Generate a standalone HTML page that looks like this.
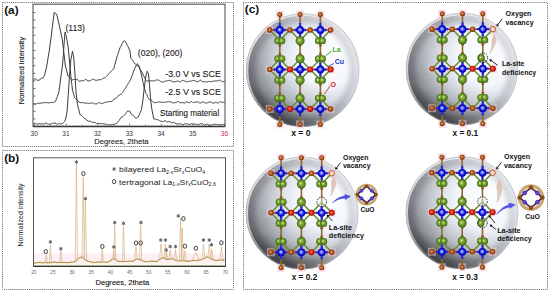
<!DOCTYPE html>
<html><head><meta charset="utf-8"><style>
html,body{margin:0;padding:0;background:#fff;width:550px;height:292px;overflow:hidden}
svg{display:block}

</style></head><body><svg width="550" height="292" viewBox="0 0 550 292">
<defs>
<radialGradient id="sph" cx="0.68" cy="0.42" r="0.75" fx="0.72" fy="0.38">
 <stop offset="0" stop-color="#ffffff"/>
 <stop offset="0.33" stop-color="#f3f6fb"/>
 <stop offset="0.5" stop-color="#dde2ea"/>
 <stop offset="0.62" stop-color="#c6cbd2"/>
 <stop offset="0.79" stop-color="#9ea2a8"/>
 <stop offset="0.91" stop-color="#777a80"/>
 <stop offset="1" stop-color="#5c5e62"/>
</radialGradient>
<radialGradient id="ring" cx="0.5" cy="0.5" r="0.5">
 <stop offset="0.76" stop-color="#000" stop-opacity="0"/>
 <stop offset="0.88" stop-color="#000" stop-opacity="0.12"/>
 <stop offset="0.95" stop-color="#000" stop-opacity="0.08"/>
 <stop offset="1" stop-color="#fff" stop-opacity="0.12"/>
</radialGradient>
<linearGradient id="shade" x1="0.72" y1="0" x2="0.3" y2="1">
 <stop offset="0.55" stop-color="#000" stop-opacity="0"/>
 <stop offset="0.76" stop-color="#000" stop-opacity="0.1"/>
 <stop offset="0.88" stop-color="#000" stop-opacity="0.32"/>
 <stop offset="0.95" stop-color="#000" stop-opacity="0.5"/>
 <stop offset="1" stop-color="#000" stop-opacity="0.6"/>
</linearGradient>
<linearGradient id="rim" x1="0" y1="0" x2="0.55" y2="1">
 <stop offset="0" stop-color="#f6f6f6" stop-opacity="0.95"/>
 <stop offset="0.5" stop-color="#e4e4e4" stop-opacity="0.75"/>
 <stop offset="0.85" stop-color="#d0d0d0" stop-opacity="0"/>
</linearGradient>
<radialGradient id="cu" cx="0.5" cy="0.5" r="0.5" fx="0.45" fy="0.45">
 <stop offset="0" stop-color="#ffffff"/>
 <stop offset="0.3" stop-color="#6a7aff"/>
 <stop offset="0.7" stop-color="#1010e0"/>
 <stop offset="1" stop-color="#000090"/>
</radialGradient>
<radialGradient id="la" cx="0.5" cy="0.5" r="0.5" fx="0.4" fy="0.4">
 <stop offset="0" stop-color="#e0f0a4"/>
 <stop offset="0.35" stop-color="#86b23c"/>
 <stop offset="0.8" stop-color="#55841e"/>
 <stop offset="1" stop-color="#385410"/>
</radialGradient>
<radialGradient id="ox" cx="0.5" cy="0.5" r="0.5" fx="0.4" fy="0.4">
 <stop offset="0" stop-color="#f0a060"/>
 <stop offset="0.6" stop-color="#b0561a"/>
 <stop offset="1" stop-color="#6a2a06"/>
</radialGradient>
<radialGradient id="oxr" cx="0.5" cy="0.5" r="0.5" fx="0.4" fy="0.4">
 <stop offset="0" stop-color="#ff8060"/>
 <stop offset="0.6" stop-color="#e02010"/>
 <stop offset="1" stop-color="#900800"/>
</radialGradient>
<radialGradient id="cuo" cx="0.5" cy="0.5" r="0.5">
 <stop offset="0" stop-color="#ffffff"/>
 <stop offset="0.55" stop-color="#fcf6ee"/>
 <stop offset="0.7" stop-color="#ecd6b8"/>
 <stop offset="0.84" stop-color="#c29c68"/>
 <stop offset="0.94" stop-color="#ccae80"/>
 <stop offset="1" stop-color="#ebe0cc"/>
</radialGradient>
<linearGradient id="tanarr" x1="0" y1="0" x2="0" y2="1">
 <stop offset="0" stop-color="#e6bcac"/>
 <stop offset="0.45" stop-color="#dac8bc"/>
 <stop offset="1" stop-color="#d8d2cc"/>
</linearGradient>
</defs>
<rect x="2.5" y="2.5" width="231.0" height="144.0" fill="none" stroke="#7a7a7a" stroke-width="1" stroke-dasharray="1.2,0.9"/><rect x="2.5" y="150.5" width="231.0" height="139.0" fill="none" stroke="#7a7a7a" stroke-width="1" stroke-dasharray="1.2,0.9"/><rect x="243.5" y="2.5" width="304.0" height="287.0" fill="none" stroke="#7a7a7a" stroke-width="1" stroke-dasharray="1.2,0.9"/><text x="4.2" y="13.5" font-family="Liberation Sans, sans-serif" font-weight="bold" font-size="11.8" fill="#111">(a)</text><text x="4.2" y="161.5" font-family="Liberation Sans, sans-serif" font-weight="bold" font-size="11.8" fill="#111">(b)</text><text x="244.8" y="12.9" font-family="Liberation Sans, sans-serif" font-weight="bold" font-size="11.8" fill="#111">(c)</text><rect x="33" y="4.2" width="192" height="122.3" fill="none" stroke="#444" stroke-width="1"/><line x1="33" y1="126.5" x2="225" y2="126.5" stroke="#333" stroke-width="1.4"/><path d="M33,118.9h2.5M33,111.3h2.5M33,103.7h2.5M33,96.1h2.5M33,88.5h2.5M33,80.9h2.5M33,73.3h2.5M33,65.7h2.5M33,58.1h2.5M33,50.5h2.5M33,42.9h2.5M33,35.3h2.5M33,27.7h2.5M33,20.1h2.5M33,12.5h2.5" stroke="#555" stroke-width="0.8"/><path d="M34.5,126.5v-3M37.7,126.5v-1.2M40.8,126.5v-1.2M44.0,126.5v-1.2M47.2,126.5v-1.2M50.4,126.5v-2M53.5,126.5v-1.2M56.7,126.5v-1.2M59.9,126.5v-1.2M63.0,126.5v-1.2M66.2,126.5v-3M69.4,126.5v-1.2M72.5,126.5v-1.2M75.7,126.5v-1.2M78.9,126.5v-1.2M82.0,126.5v-2M85.2,126.5v-1.2M88.4,126.5v-1.2M91.6,126.5v-1.2M94.7,126.5v-1.2M97.9,126.5v-3M101.1,126.5v-1.2M104.2,126.5v-1.2M107.4,126.5v-1.2M110.6,126.5v-1.2M113.8,126.5v-2M116.9,126.5v-1.2M120.1,126.5v-1.2M123.3,126.5v-1.2M126.4,126.5v-1.2M129.6,126.5v-3M132.8,126.5v-1.2M135.9,126.5v-1.2M139.1,126.5v-1.2M142.3,126.5v-1.2M145.4,126.5v-2M148.6,126.5v-1.2M151.8,126.5v-1.2M155.0,126.5v-1.2M158.1,126.5v-1.2M161.3,126.5v-3M164.5,126.5v-1.2M167.6,126.5v-1.2M170.8,126.5v-1.2M174.0,126.5v-1.2M177.2,126.5v-2M180.3,126.5v-1.2M183.5,126.5v-1.2M186.7,126.5v-1.2M189.8,126.5v-1.2M193.0,126.5v-3M196.2,126.5v-1.2M199.3,126.5v-1.2M202.5,126.5v-1.2M205.7,126.5v-1.2M208.8,126.5v-2M212.0,126.5v-1.2M215.2,126.5v-1.2M218.4,126.5v-1.2M221.5,126.5v-1.2M224.7,126.5v-3" stroke="#555" stroke-width="0.7"/><text x="34.2" y="135.6" font-family="Liberation Sans, sans-serif" font-size="6.5" fill="#333" text-anchor="middle">30</text><text x="65.9" y="135.6" font-family="Liberation Sans, sans-serif" font-size="6.5" fill="#333" text-anchor="middle">31</text><text x="97.6" y="135.6" font-family="Liberation Sans, sans-serif" font-size="6.5" fill="#333" text-anchor="middle">32</text><text x="129.3" y="135.6" font-family="Liberation Sans, sans-serif" font-size="6.5" fill="#333" text-anchor="middle">33</text><text x="161.0" y="135.6" font-family="Liberation Sans, sans-serif" font-size="6.5" fill="#333" text-anchor="middle">34</text><text x="192.7" y="135.6" font-family="Liberation Sans, sans-serif" font-size="6.5" fill="#333" text-anchor="middle">35</text><text x="224.4" y="135.6" font-family="Liberation Sans, sans-serif" font-size="6.5" fill="#d02458" text-anchor="middle">36</text><text x="94.3" y="143.9" font-family="Liberation Sans, sans-serif" font-size="7.6" fill="#1a2a22" stroke="#1a2a22" stroke-width="0.12" textLength="54.2" lengthAdjust="spacingAndGlyphs">Degrees, 2theta</text><text transform="translate(24.2,104.2) rotate(-90)" font-family="Liberation Sans, sans-serif" font-size="7.6" fill="#222" stroke="#222" stroke-width="0.12" textLength="67.4" lengthAdjust="spacingAndGlyphs">Normalized intensity</text><path d="M33.5,79.7 L34.1,79.3 L34.8,78.7 L35.4,78.8 L36.1,79.1 L36.7,79.8 L37.4,80.4 L38.0,80.5 L38.7,80.1 L39.3,80.1 L40.0,79.8 L40.7,78.8 L41.4,78.0 L42.0,77.7 L42.7,78.3 L43.6,76.9 L44.5,75.4 L45.2,72.3 L46.0,69.3 L46.7,66.2 L47.4,62.3 L48.0,58.2 L48.7,54.1 L49.4,50.0 L50.1,44.6 L50.8,39.3 L51.5,34.0 L52.4,26.7 L53.3,19.9 L54.2,12.4 L54.9,12.9 L55.5,13.3 L56.2,13.7 L56.9,15.2 L57.6,17.9 L58.3,21.1 L59.0,24.0 L59.6,26.9 L60.3,29.8 L60.9,33.1 L61.6,36.1 L62.2,38.9 L63.0,45.6 L63.8,52.1 L64.6,59.0 L65.4,66.0 L66.1,68.5 L66.8,71.4 L67.4,74.0 L68.1,76.1 L68.8,76.9 L69.5,77.5 L70.3,78.1 L71.0,78.9 L71.6,79.2 L72.2,79.7 L72.8,79.8 L73.4,79.5 L74.0,79.6 L74.6,79.5 L75.2,79.5 L75.8,79.4 L76.4,79.3 L77.0,79.4 L77.6,79.6 L78.2,80.4 L78.8,81.2 L79.4,81.3 L80.0,81.4 L80.6,81.0 L81.2,80.9 L81.9,80.6 L82.5,80.6 L83.1,80.7 L83.8,80.5 L84.4,80.3 L85.0,79.7 L85.6,79.4 L86.2,79.6 L86.9,80.1 L87.5,80.8 L88.1,80.9 L88.8,80.9 L89.4,80.9 L90.0,80.8 L90.6,80.6 L91.2,80.0 L91.9,79.4 L92.5,79.1 L93.1,79.5 L93.8,79.5 L94.4,79.9 L95.0,79.9 L95.6,80.2 L96.2,80.3 L96.8,80.4 L97.4,80.0 L98.0,80.0 L98.6,79.9 L99.2,79.7 L99.9,79.7 L100.5,79.8 L101.1,79.8 L101.7,79.4 L102.3,79.0 L102.9,78.4 L103.5,78.1 L104.1,77.8 L104.8,77.8 L105.4,77.5 L106.0,76.9 L106.7,76.3 L107.3,75.6 L107.9,74.9 L108.6,74.1 L109.2,73.3 L109.9,72.4 L110.5,71.8 L111.2,71.2 L111.9,70.6 L112.6,70.0 L113.2,69.3 L113.9,68.3 L114.6,65.5 L115.3,63.0 L116.0,60.5 L116.7,57.7 L117.4,55.5 L118.1,53.4 L118.8,51.2 L119.5,49.1 L120.1,47.7 L120.8,46.6 L121.4,45.3 L122.0,43.6 L122.8,42.3 L123.5,41.2 L124.3,40.5 L125.2,41.6 L126.0,43.0 L126.7,44.1 L127.3,45.4 L128.0,46.5 L128.6,48.0 L129.3,49.5 L129.9,50.9 L130.8,58.1 L131.4,58.7 L132.1,59.5 L132.7,60.4 L133.3,61.6 L134.0,62.6 L134.6,63.4 L135.2,64.0 L135.9,64.5 L136.5,65.0 L137.1,65.6 L137.8,66.0 L138.4,66.1 L139.0,67.1 L139.6,68.4 L140.2,69.3 L140.9,70.4 L141.5,71.4 L142.1,72.7 L142.7,74.0 L143.4,75.2 L144.0,76.4 L144.6,77.7 L145.3,78.8 L145.9,80.4 L146.6,80.9 L147.3,81.1 L147.9,81.1 L148.6,81.1 L149.3,81.0 L150.0,80.9 L150.6,80.8 L151.2,80.9 L151.8,80.7 L152.4,80.7 L153.0,81.0 L153.6,81.0 L154.2,80.9 L154.8,80.7 L155.4,80.3 L156.0,79.9 L156.6,80.0 L157.2,80.0 L157.8,80.1 L158.4,79.9 L159.0,80.3 L159.6,80.8 L160.2,81.3 L160.8,81.4 L161.4,81.7 L162.0,82.0 L162.6,82.0 L163.2,81.9 L163.8,81.8 L164.4,81.4 L165.0,81.3 L165.6,81.0 L166.2,81.1 L166.8,80.8 L167.4,80.7 L168.0,80.6 L168.6,80.5 L169.2,80.4 L169.8,80.3 L170.4,80.6 L171.0,80.8 L171.6,81.1 L172.2,81.2 L172.8,81.8 L173.4,82.1 L174.0,82.1 L174.6,81.8 L175.2,81.7 L175.8,81.5 L176.4,81.4 L177.0,81.4 L177.6,81.1 L178.2,81.2 L178.8,81.2 L179.4,81.6 L180.0,81.8 L180.6,81.7 L181.2,81.2 L181.8,80.8 L182.4,80.4 L183.0,80.4 L183.6,80.6 L184.2,80.8 L184.8,81.1 L185.4,81.3 L186.0,81.5 L186.6,81.8 L187.2,82.0 L187.9,81.8 L188.5,81.5 L189.1,81.2 L189.7,81.1 L190.3,81.2 L190.9,80.8 L191.5,81.0 L192.1,80.7 L192.7,80.6 L193.3,80.5 L193.9,80.5 L194.5,80.6 L195.1,80.9 L195.7,81.2 L196.3,81.2 L196.9,81.6 L197.5,81.8 L198.1,82.1 L198.7,81.5 L199.3,80.8 L199.9,80.2 L200.5,80.1 L201.1,80.4 L201.7,81.3 L202.3,81.7 L202.9,81.6 L203.5,81.6 L204.1,81.7 L204.7,81.8 L205.3,81.7 L205.9,81.9 L206.5,81.9 L207.1,81.7 L207.7,81.9 L208.3,81.5 L208.9,81.4 L209.5,81.6 L210.1,81.5 L210.7,81.6 L211.3,81.6 L211.9,81.5 L212.5,81.4 L213.1,81.2 L213.7,80.9 L214.3,80.9 L214.9,81.2 L215.5,81.0 L216.1,81.0 L216.7,80.9 L217.3,80.8 L217.9,80.7 L218.5,80.7 L219.1,80.4 L219.7,80.1 L220.3,80.2 L220.9,80.7 L221.5,81.3 L222.1,81.8 L222.7,81.9 L223.3,81.5 L223.9,81.2 L224.5,81.0" fill="none" stroke="#3a3a3a" stroke-width="1" stroke-linejoin="round"/><path d="M33.5,104.2 L34.1,104.1 L34.7,104.1 L35.3,104.3 L35.9,103.9 L36.5,103.8 L37.1,103.4 L37.7,103.4 L38.3,103.3 L38.9,103.2 L39.6,103.3 L40.2,103.2 L40.8,103.1 L41.4,103.0 L42.0,103.1 L42.6,103.0 L43.2,102.7 L43.8,102.7 L44.4,102.8 L45.0,102.6 L45.6,102.5 L46.3,102.4 L46.9,102.5 L47.6,102.9 L48.2,103.0 L48.9,102.9 L49.5,102.9 L50.2,102.5 L50.8,102.6 L51.5,102.5 L52.1,102.4 L52.8,102.5 L53.4,102.4 L54.0,102.3 L54.7,102.0 L55.4,101.3 L56.0,100.1 L56.7,98.4 L57.4,96.5 L58.0,94.7 L58.7,92.9 L59.6,86.5 L60.5,80.0 L61.2,74.5 L62.0,68.8 L62.7,63.3 L63.4,54.1 L64.0,44.8 L65.0,32.1 L65.6,33.9 L66.2,36.1 L66.9,39.9 L67.6,43.9 L68.3,48.0 L68.9,54.8 L69.6,62.1 L70.3,69.9 L71.0,77.9 L71.8,84.1 L72.5,90.1 L73.2,92.6 L73.8,94.9 L74.5,97.4 L75.1,98.1 L75.8,98.7 L76.4,99.1 L77.0,100.0 L77.6,100.4 L78.2,101.2 L78.8,102.0 L79.4,102.3 L80.0,102.6 L80.6,102.8 L81.2,102.5 L81.8,102.6 L82.4,102.6 L83.0,102.6 L83.6,102.7 L84.2,102.8 L84.8,103.0 L85.4,103.1 L86.0,103.2 L86.6,103.3 L87.2,103.1 L87.8,103.1 L88.4,103.3 L89.0,103.2 L89.6,103.2 L90.2,103.5 L90.8,103.3 L91.4,103.2 L92.0,102.7 L92.6,102.8 L93.3,103.2 L93.9,103.5 L94.5,103.9 L95.1,103.9 L95.7,103.8 L96.3,104.0 L97.0,103.8 L97.6,103.4 L98.2,102.9 L98.8,102.4 L99.4,102.6 L100.1,102.9 L100.7,103.3 L101.3,103.5 L101.9,103.5 L102.5,103.3 L103.1,103.2 L103.8,102.9 L104.4,102.6 L105.0,102.4 L105.6,102.1 L106.2,102.0 L106.8,102.2 L107.4,101.9 L108.0,102.0 L108.6,101.8 L109.3,101.7 L109.9,101.4 L110.5,101.4 L111.1,101.8 L111.7,101.4 L112.3,101.1 L112.9,100.5 L113.5,99.7 L114.1,99.0 L114.7,98.7 L115.3,98.3 L115.9,98.3 L116.5,97.9 L117.1,97.2 L117.7,96.7 L118.3,95.7 L118.9,95.1 L119.5,94.9 L120.2,94.6 L120.8,94.5 L121.4,93.9 L122.0,93.4 L122.6,92.6 L123.2,91.6 L123.8,90.6 L124.4,89.6 L125.0,88.7 L125.7,87.6 L126.3,86.7 L126.9,85.7 L127.5,84.8 L128.2,83.6 L128.8,82.6 L129.5,81.4 L130.1,80.2 L130.8,79.1 L131.4,77.3 L132.1,75.6 L132.7,73.8 L133.4,71.9 L134.0,70.0 L134.7,68.8 L135.4,67.3 L136.0,65.9 L136.7,64.9 L137.4,63.6 L138.1,64.6 L138.8,65.8 L139.5,66.9 L140.2,69.7 L140.8,72.4 L141.5,75.0 L142.2,78.4 L142.8,81.6 L143.5,84.9 L144.2,87.4 L144.8,89.7 L145.5,92.2 L146.1,93.6 L146.8,94.6 L147.4,96.1 L148.0,97.4 L148.6,98.4 L149.2,99.2 L149.8,100.0 L150.4,100.2 L151.0,100.4 L151.6,100.5 L152.2,100.9 L152.8,101.6 L153.4,102.4 L154.0,102.9 L154.6,102.7 L155.2,102.4 L155.8,102.5 L156.4,102.5 L157.0,102.4 L157.6,102.2 L158.2,101.9 L158.8,102.0 L159.4,102.0 L160.0,102.1 L160.6,102.1 L161.2,102.1 L161.8,102.4 L162.4,102.5 L163.0,102.5 L163.6,102.3 L164.2,102.2 L164.8,102.2 L165.4,102.3 L166.1,102.1 L166.7,101.8 L167.3,101.9 L167.9,101.8 L168.5,101.7 L169.1,101.6 L169.7,101.7 L170.3,101.8 L170.9,102.1 L171.5,102.1 L172.1,102.4 L172.7,102.5 L173.3,103.0 L173.9,102.9 L174.5,102.8 L175.1,102.7 L175.7,102.4 L176.3,102.4 L176.9,102.2 L177.5,101.6 L178.1,101.6 L178.7,101.7 L179.3,102.3 L179.9,102.6 L180.5,102.8 L181.1,102.8 L181.7,102.7 L182.3,102.6 L182.9,102.6 L183.5,102.8 L184.1,102.9 L184.7,103.0 L185.3,102.9 L185.9,102.3 L186.5,101.8 L187.1,101.8 L187.7,102.2 L188.3,102.4 L188.9,102.8 L189.6,102.8 L190.2,102.4 L190.8,101.9 L191.4,101.5 L192.0,101.7 L192.6,102.3 L193.2,102.5 L193.8,102.5 L194.4,102.6 L195.0,102.1 L195.6,102.0 L196.2,101.9 L196.8,101.9 L197.4,102.0 L198.0,101.9 L198.6,102.1 L199.2,102.6 L199.8,103.1 L200.4,103.0 L201.0,102.8 L201.6,102.1 L202.2,101.7 L202.8,101.9 L203.4,102.1 L204.0,102.3 L204.6,102.6 L205.2,102.8 L205.8,102.9 L206.4,103.1 L207.0,103.2 L207.6,102.9 L208.2,102.3 L208.8,102.0 L209.4,102.2 L210.0,102.2 L210.6,102.0 L211.2,102.1 L211.8,102.4 L212.4,102.8 L213.1,103.3 L213.7,103.3 L214.3,102.9 L214.9,102.6 L215.5,102.3 L216.1,102.6 L216.7,102.6 L217.3,103.0 L217.9,103.0 L218.5,102.7 L219.1,102.4 L219.7,101.8 L220.3,101.8 L220.9,102.0 L221.5,102.2 L222.1,102.3 L222.7,102.4 L223.3,102.4 L223.9,102.0 L224.5,102.7" fill="none" stroke="#3a3a3a" stroke-width="1" stroke-linejoin="round"/><path d="M33.5,123.1 L34.1,123.5 L34.7,123.8 L35.3,123.7 L35.9,123.8 L36.6,123.9 L37.2,124.0 L37.8,124.2 L38.4,124.1 L39.0,123.9 L39.6,123.6 L40.2,123.8 L40.8,123.8 L41.4,124.0 L42.1,124.1 L42.7,123.9 L43.3,123.9 L43.9,124.1 L44.5,123.8 L45.1,123.4 L45.7,123.2 L46.3,123.1 L46.9,123.2 L47.6,123.8 L48.2,124.1 L48.8,124.2 L49.4,124.0 L50.0,124.0 L50.6,124.1 L51.2,123.8 L51.8,123.7 L52.4,123.3 L53.0,123.3 L53.6,123.3 L54.2,123.0 L54.8,123.1 L55.4,123.2 L56.0,123.4 L56.6,124.1 L57.2,124.2 L57.8,124.2 L58.4,123.9 L59.0,123.5 L59.6,123.6 L60.2,123.7 L60.8,123.9 L61.4,123.8 L62.0,123.9 L62.7,123.4 L63.4,122.7 L64.0,122.0 L64.7,121.1 L65.4,120.1 L66.2,116.0 L67.0,112.2 L68.1,97.0 L68.8,86.9 L69.4,76.6 L70.1,68.4 L70.8,60.0 L71.7,55.4 L72.5,51.2 L73.2,54.6 L73.8,57.9 L74.8,71.5 L75.4,82.0 L76.1,92.8 L76.8,98.9 L77.5,104.8 L78.1,107.2 L78.8,109.7 L79.4,112.1 L80.0,114.7 L80.6,114.7 L81.2,115.0 L81.8,115.8 L82.5,116.4 L83.1,117.0 L83.7,117.7 L84.3,118.2 L84.9,118.8 L85.5,119.1 L86.2,119.6 L86.8,120.0 L87.4,120.9 L88.1,121.2 L88.7,121.4 L89.3,121.1 L90.0,121.1 L90.6,121.3 L91.2,121.7 L91.9,122.1 L92.5,122.3 L93.1,122.5 L93.8,122.3 L94.4,122.4 L95.0,122.6 L95.7,123.0 L96.3,123.6 L96.9,123.6 L97.5,123.4 L98.1,123.4 L98.8,123.4 L99.4,123.6 L100.0,123.6 L100.6,123.6 L101.2,123.6 L101.8,123.5 L102.5,123.8 L103.1,123.9 L103.7,124.0 L104.3,124.1 L104.9,124.0 L105.5,124.1 L106.2,124.3 L106.8,124.3 L107.4,124.8 L108.0,124.9 L108.6,124.8 L109.2,124.6 L109.9,124.5 L110.5,124.6 L111.1,124.8 L111.7,124.9 L112.3,124.7 L112.9,124.4 L113.5,124.4 L114.2,124.1 L114.8,123.9 L115.4,123.9 L116.0,123.6 L116.7,123.3 L117.3,122.6 L118.0,121.8 L118.6,121.0 L119.3,120.4 L119.9,119.2 L120.5,118.3 L121.2,117.4 L121.8,117.1 L122.4,116.9 L123.0,116.5 L123.7,115.8 L124.3,115.3 L124.9,114.5 L125.6,113.5 L126.2,112.8 L126.9,111.9 L127.5,110.9 L128.2,111.1 L128.8,111.1 L129.5,111.0 L130.2,112.0 L130.9,113.2 L131.6,114.0 L132.3,114.9 L132.9,115.4 L133.6,115.7 L134.2,116.6 L134.9,117.6 L135.6,118.0 L136.2,118.1 L136.9,117.9 L137.5,117.4 L138.2,117.1 L138.9,115.7 L139.5,114.1 L140.2,112.5 L140.8,111.1 L141.5,109.5 L142.2,104.6 L143.0,99.7 L144.0,89.7 L144.8,83.9 L145.5,78.0 L146.3,74.6 L147.2,71.2 L147.8,72.6 L148.5,74.0 L149.5,84.9 L150.5,97.9 L151.2,104.0 L152.0,110.2 L152.6,113.0 L153.2,115.9 L153.8,119.0 L154.4,119.1 L155.1,119.1 L155.7,119.2 L156.3,119.5 L156.9,119.6 L157.5,119.7 L158.1,119.8 L158.8,120.1 L159.4,120.6 L160.0,120.8 L160.6,121.2 L161.2,121.2 L161.8,121.4 L162.5,121.5 L163.1,121.7 L163.7,121.3 L164.3,120.8 L164.9,120.6 L165.5,120.9 L166.2,121.4 L166.8,121.7 L167.4,121.9 L168.0,121.9 L168.6,121.6 L169.2,121.5 L169.9,121.5 L170.5,122.1 L171.1,122.6 L171.7,122.7 L172.3,122.9 L173.0,122.5 L173.6,122.4 L174.2,122.6 L174.8,122.9 L175.4,123.5 L176.1,123.6 L176.7,123.7 L177.3,123.8 L177.9,124.2 L178.5,124.1 L179.2,124.0 L179.8,123.7 L180.4,123.8 L181.0,123.9 L181.6,124.2 L182.3,124.6 L182.9,124.8 L183.5,124.5 L184.1,124.1 L184.7,123.8 L185.4,124.0 L186.0,124.0 L186.6,123.9 L187.2,123.7 L187.8,123.9 L188.4,124.3 L189.0,124.5 L189.6,124.4 L190.2,124.1 L190.8,124.0 L191.4,123.9 L192.0,123.7 L192.6,124.0 L193.2,124.0 L193.8,124.1 L194.4,124.2 L195.0,124.4 L195.6,124.2 L196.2,124.3 L196.8,124.5 L197.4,124.8 L198.0,124.6 L198.6,124.5 L199.2,124.4 L199.8,123.9 L200.4,123.9 L201.0,123.8 L201.6,123.9 L202.2,123.9 L202.8,123.8 L203.4,124.5 L204.0,124.9 L204.6,125.2 L205.2,124.9 L205.9,124.7 L206.5,124.2 L207.1,124.2 L207.7,124.5 L208.3,125.0 L208.9,125.2 L209.5,125.2 L210.1,125.1 L210.7,125.2 L211.3,125.2 L211.9,125.0 L212.5,124.6 L213.1,124.4 L213.7,124.2 L214.3,124.4 L214.9,124.3 L215.5,124.4 L216.1,124.5 L216.7,124.5 L217.3,124.4 L217.9,124.5 L218.5,124.7 L219.1,124.7 L219.7,124.8 L220.3,124.8 L220.9,124.7 L221.5,124.8 L222.1,124.7 L222.7,124.6 L223.3,124.6 L223.9,124.5 L224.5,124.5" fill="none" stroke="#3a3a3a" stroke-width="1" stroke-linejoin="round"/><text x="137.8" y="55.9" font-family="Liberation Sans, sans-serif" font-size="8.4" fill="#222" stroke="#222" stroke-width="0.12" textLength="44.6" lengthAdjust="spacingAndGlyphs">(020), (200)</text><text x="65.5" y="30.5" font-family="Liberation Sans, sans-serif" font-size="8.8" fill="#222" stroke="#222" stroke-width="0.12" textLength="19.4" lengthAdjust="spacingAndGlyphs">(113)</text><text x="165.2" y="76.5" font-family="Liberation Sans, sans-serif" font-size="8.6" fill="#222" stroke="#222" stroke-width="0.12" textLength="55.6" lengthAdjust="spacingAndGlyphs">-3.0 V vs SCE</text><text x="165.2" y="94.6" font-family="Liberation Sans, sans-serif" font-size="8.6" fill="#222" stroke="#222" stroke-width="0.12" textLength="55.6" lengthAdjust="spacingAndGlyphs">-2.5 V vs SCE</text><text x="160" y="116.3" font-family="Liberation Sans, sans-serif" font-size="8.5" fill="#222" stroke="#222" stroke-width="0.12" textLength="59.2" lengthAdjust="spacingAndGlyphs">Starting material</text><rect x="33.5" y="253.5" width="192.0" height="9.5" fill="#fdf0f4"/><rect x="33.5" y="263" width="192.0" height="2.6" fill="#fbf6e6"/><rect x="33.5" y="157.8" width="192.0" height="108.5" fill="none" stroke="#555" stroke-width="1"/><line x1="33.5" y1="266.3" x2="225.5" y2="266.3" stroke="#333" stroke-width="1.3"/><text x="33.8" y="274.3" font-family="Liberation Sans, sans-serif" font-size="4.7" fill="#666" text-anchor="middle">20</text><text x="52.9" y="274.3" font-family="Liberation Sans, sans-serif" font-size="4.7" fill="#666" text-anchor="middle">25</text><text x="72.1" y="274.3" font-family="Liberation Sans, sans-serif" font-size="4.7" fill="#666" text-anchor="middle">30</text><text x="91.2" y="274.3" font-family="Liberation Sans, sans-serif" font-size="4.7" fill="#666" text-anchor="middle">35</text><text x="110.4" y="274.3" font-family="Liberation Sans, sans-serif" font-size="4.7" fill="#666" text-anchor="middle">40</text><text x="129.6" y="274.3" font-family="Liberation Sans, sans-serif" font-size="4.7" fill="#666" text-anchor="middle">45</text><text x="148.7" y="274.3" font-family="Liberation Sans, sans-serif" font-size="4.7" fill="#666" text-anchor="middle">50</text><text x="167.9" y="274.3" font-family="Liberation Sans, sans-serif" font-size="4.7" fill="#666" text-anchor="middle">55</text><text x="187.0" y="274.3" font-family="Liberation Sans, sans-serif" font-size="4.7" fill="#666" text-anchor="middle">60</text><text x="206.1" y="274.3" font-family="Liberation Sans, sans-serif" font-size="4.7" fill="#666" text-anchor="middle">65</text><text x="225.3" y="274.3" font-family="Liberation Sans, sans-serif" font-size="4.7" fill="#666" text-anchor="middle">70</text><text x="95.5" y="284.9" font-family="Liberation Sans, sans-serif" font-size="7.6" fill="#111" stroke="#111" stroke-width="0.12" textLength="53.8" lengthAdjust="spacingAndGlyphs">Degrees, 2theta</text><text transform="translate(22.6,246.6) rotate(-90)" font-family="Liberation Sans, sans-serif" font-size="7" fill="#222" textLength="63" lengthAdjust="spacingAndGlyphs">Normalized intensity</text><path d="M34.0,262.6 L34.5,262.9 L35.0,263.2 L35.5,263.2 L36.0,263.0 L36.5,262.7 L37.0,262.6 L37.5,262.5 L38.0,262.5 L38.5,262.4 L39.0,262.4 L39.5,262.4 L40.0,262.4 L40.5,262.4 L41.0,262.5 L41.5,262.6 L42.0,262.7 L42.5,262.9 L43.0,263.1 L43.5,263.0 L44.0,262.8 L44.5,262.5 L45.0,262.4 L45.5,262.6 L46.0,262.7 L46.5,262.8 L47.0,262.8 L47.5,262.9 L48.0,262.9 L48.5,262.8 L49.0,262.7 L49.5,262.5 L50.0,262.6 L50.5,262.6 L51.0,262.7 L51.5,262.6 L52.0,262.4 L52.5,262.2 L53.0,262.1 L53.5,262.1 L54.0,262.1 L54.5,262.1 L55.0,262.1 L55.5,262.2 L56.0,262.2 L56.5,262.4 L57.0,262.6 L57.5,262.8 L58.0,262.7 L58.5,262.6 L59.0,262.5 L59.5,262.4 L60.0,262.4 L60.5,262.3 L61.0,262.3 L61.5,262.4 L62.0,262.5 L62.5,262.6 L63.0,262.5 L63.5,262.5 L64.0,262.4 L64.5,262.4 L65.0,262.3 L65.5,262.2 L66.0,262.4 L66.5,262.5 L67.0,262.7 L67.5,262.8 L68.0,262.7 L68.5,262.7 L69.0,262.6 L69.5,262.4 L70.0,262.2 L70.5,262.1 L71.0,262.1 L71.5,262.2 L72.0,262.3 L72.5,262.2 L73.0,262.0 L73.5,261.9 L74.0,261.8 L74.5,261.7 L75.0,261.6 L75.5,261.3 L76.0,260.9 L76.5,260.4 L77.0,259.9 L77.5,259.3 L78.0,258.7 L78.5,258.2 L79.0,258.1 L79.5,258.0 L80.0,258.0 L80.5,257.6 L81.0,257.2 L81.5,256.9 L82.0,257.1 L82.5,257.4 L83.0,257.8 L83.5,258.3 L84.0,258.8 L84.5,259.4 L85.0,259.8 L85.5,260.0 L86.0,260.1 L86.5,260.3 L87.0,260.7 L87.5,261.1 L88.0,261.5 L88.5,261.5 L89.0,261.4 L89.5,261.3 L90.0,261.6 L90.5,261.9 L91.0,262.1 L91.5,262.3 L92.0,262.3 L92.5,262.4 L93.0,262.3 L93.5,262.3 L94.0,262.2 L94.5,262.2 L95.0,262.3 L95.5,262.4 L96.0,262.5 L96.5,262.3 L97.0,262.0 L97.5,261.8 L98.0,261.9 L98.5,262.0 L99.0,262.2 L99.5,262.2 L100.0,262.1 L100.5,262.1 L101.0,262.1 L101.5,262.1 L102.0,262.0 L102.5,262.0 L103.0,262.0 L103.5,261.9 L104.0,261.9 L104.5,262.0 L105.0,262.1 L105.5,262.3 L106.0,262.3 L106.5,262.3 L107.0,262.3 L107.5,262.2 L108.0,261.9 L108.5,261.7 L109.0,261.4 L109.5,261.3 L110.0,261.1 L110.5,260.9 L111.0,260.3 L111.5,259.7 L112.0,259.1 L112.5,259.0 L113.0,259.0 L113.5,259.0 L114.0,259.0 L114.5,259.0 L115.0,259.2 L115.5,259.5 L116.0,260.0 L116.5,260.4 L117.0,260.8 L117.5,261.1 L118.0,261.3 L118.5,261.5 L119.0,261.4 L119.5,261.4 L120.0,261.3 L120.5,261.4 L121.0,261.4 L121.5,261.5 L122.0,261.6 L122.5,261.7 L123.0,261.8 L123.5,261.7 L124.0,261.5 L124.5,261.2 L125.0,261.1 L125.5,261.3 L126.0,261.4 L126.5,261.5 L127.0,261.4 L127.5,261.3 L128.0,261.2 L128.5,261.2 L129.0,261.1 L129.5,261.1 L130.0,261.1 L130.5,261.0 L131.0,261.0 L131.5,261.1 L132.0,261.3 L132.5,261.5 L133.0,261.4 L133.5,261.0 L134.0,260.6 L134.5,260.1 L135.0,259.9 L135.5,259.6 L136.0,259.4 L136.5,259.1 L137.0,259.0 L137.5,258.9 L138.0,259.0 L138.5,259.2 L139.0,259.5 L139.5,259.6 L140.0,259.6 L140.5,259.6 L141.0,259.7 L141.5,260.1 L142.0,260.5 L142.5,260.8 L143.0,261.0 L143.5,261.2 L144.0,261.3 L144.5,261.5 L145.0,261.6 L145.5,261.7 L146.0,261.8 L146.5,261.7 L147.0,261.7 L147.5,261.7 L148.0,261.7 L148.5,261.7 L149.0,261.6 L149.5,261.4 L150.0,261.2 L150.5,261.0 L151.0,261.1 L151.5,261.1 L152.0,261.1 L152.5,261.1 L153.0,261.1 L153.5,261.1 L154.0,261.2 L154.5,261.4 L155.0,261.6 L155.5,261.6 L156.0,261.6 L156.5,261.6 L157.0,261.4 L157.5,261.0 L158.0,260.6 L158.5,260.1 L159.0,259.9 L159.5,259.6 L160.0,259.3 L160.5,258.9 L161.0,258.6 L161.5,258.3 L162.0,258.0 L162.5,257.8 L163.0,257.8 L163.5,257.8 L164.0,258.1 L164.5,258.4 L165.0,258.8 L165.5,259.1 L166.0,259.4 L166.5,259.6 L167.0,259.7 L167.5,259.6 L168.0,259.5 L168.5,259.4 L169.0,259.1 L169.5,258.9 L170.0,258.9 L170.5,258.9 L171.0,258.9 L171.5,258.9 L172.0,258.8 L172.5,258.8 L173.0,258.9 L173.5,259.1 L174.0,259.4 L174.5,259.6 L175.0,260.0 L175.5,260.3 L176.0,260.6 L176.5,260.7 L177.0,260.7 L177.5,260.8 L178.0,260.8 L178.5,260.8 L179.0,260.8 L179.5,260.8 L180.0,260.9 L180.5,260.9 L181.0,261.0 L181.5,261.0 L182.0,261.0 L182.5,261.0 L183.0,260.7 L183.5,260.5 L184.0,260.3 L184.5,260.6 L185.0,260.9 L185.5,261.2 L186.0,261.2 L186.5,261.2 L187.0,261.1 L187.5,261.1 L188.0,261.1 L188.5,261.2 L189.0,261.2 L189.5,261.1 L190.0,261.1 L190.5,261.0 L191.0,260.9 L191.5,260.7 L192.0,260.6 L192.5,260.6 L193.0,260.5 L193.5,260.5 L194.0,260.4 L194.5,260.3 L195.0,260.2 L195.5,260.3 L196.0,260.5 L196.5,260.7 L197.0,260.7 L197.5,260.5 L198.0,260.2 L198.5,260.0 L199.0,260.0 L199.5,259.9 L200.0,259.9 L200.5,259.8 L201.0,259.7 L201.5,259.6 L202.0,259.4 L202.5,259.2 L203.0,258.9 L203.5,258.6 L204.0,258.4 L204.5,258.2 L205.0,257.9 L205.5,257.5 L206.0,257.2 L206.5,257.0 L207.0,256.9 L207.5,256.9 L208.0,257.0 L208.5,257.3 L209.0,257.6 L209.5,257.9 L210.0,258.2 L210.5,258.5 L211.0,258.7 L211.5,259.0 L212.0,259.3 L212.5,259.6 L213.0,259.8 L213.5,259.8 L214.0,259.7 L214.5,259.7 L215.0,260.1 L215.5,260.4 L216.0,260.8 L216.5,260.7 L217.0,260.6 L217.5,260.5 L218.0,260.3 L218.5,260.1 L219.0,260.0 L219.5,259.9 L220.0,259.9 L220.5,260.0 L221.0,260.0 L221.5,260.0 L222.0,260.1 L222.5,260.1 L223.0,260.1 L223.5,260.1 L224.0,260.1 L224.5,260.0" fill="none" stroke="#b08c3e" stroke-width="1.05" stroke-linejoin="round"/><path d="M45.0,262.8L46.3,255.5L47.6,262.9M49.3,262.6L50.4,245.0L51.5,262.7M59.8,262.3L60.9,251.0L62.0,262.5M75.3,260.5L76.4,164.0L77.5,260.3M82.0,258.0L83.2,177.0L84.4,258.3M84.2,259.9L85.4,201.0L86.6,259.5M101.2,262.0L102.3,249.5L103.4,262.0M112.5,259.0L113.9,250.5L115.3,259.0M113.6,259.1L114.7,225.5L115.8,259.2M122.4,261.7L123.5,226.5L124.6,261.2M134.6,259.4L136.0,246.5L137.4,259.5M139.5,259.6L140.6,225.5L141.7,259.7M159.6,258.6L161.0,244.0L162.4,258.6M164.0,259.0L165.4,244.0L166.8,259.1M165.2,259.6L166.5,252.0L167.8,259.4M168.9,258.9L170.2,250.0L171.5,259.2M174.2,260.3L175.5,250.0L176.8,260.4M179.4,260.9L180.6,218.0L181.8,261.0M181.1,261.0L182.2,228.0L183.3,260.7M183.5,260.8L184.8,250.5L186.1,261.3M191.8,260.4L195.8,252.5L199.8,260.8M202.1,258.6L203.5,244.0L204.9,258.8M207.9,257.8L209.3,244.0L210.7,257.8M210.5,259.2L211.8,249.5L213.1,259.4M220.0,260.0L221.4,246.5L222.8,260.1" fill="none" stroke="#d8b284" stroke-width="0.7" stroke-linejoin="round"/><g fill="#6a6c70" stroke="#6a6c70" stroke-width="0.9"><circle cx="50.4" cy="241.9" r="1.25" stroke="none"/><path d="M50.4,240.0v3.8M48.7,241.0l3.3,1.9M48.7,242.8l3.3,-1.9"/></g><g fill="#6a6c70" stroke="#6a6c70" stroke-width="0.9"><circle cx="60.9" cy="248.8" r="1.25" stroke="none"/><path d="M60.9,246.9v3.8M59.2,247.9l3.3,1.9M59.2,249.8l3.3,-1.9"/></g><g fill="#6a6c70" stroke="#6a6c70" stroke-width="0.9"><circle cx="76.5" cy="162" r="1.25" stroke="none"/><path d="M76.5,160.1v3.8M74.8,161.1l3.3,1.9M74.8,162.9l3.3,-1.9"/></g><g fill="#6a6c70" stroke="#6a6c70" stroke-width="0.9"><circle cx="85.4" cy="198.7" r="1.25" stroke="none"/><path d="M85.4,196.8v3.8M83.7,197.8l3.3,1.9M83.7,199.6l3.3,-1.9"/></g><g fill="#6a6c70" stroke="#6a6c70" stroke-width="0.9"><circle cx="113.9" cy="247" r="1.25" stroke="none"/><path d="M113.9,245.1v3.8M112.2,246.1l3.3,1.9M112.2,247.9l3.3,-1.9"/></g><g fill="#6a6c70" stroke="#6a6c70" stroke-width="0.9"><circle cx="114.7" cy="222.6" r="1.25" stroke="none"/><path d="M114.7,220.7v3.8M113.0,221.7l3.3,1.9M113.0,223.5l3.3,-1.9"/></g><g fill="#6a6c70" stroke="#6a6c70" stroke-width="0.9"><circle cx="123.5" cy="223.4" r="1.25" stroke="none"/><path d="M123.5,221.5v3.8M121.8,222.5l3.3,1.9M121.8,224.3l3.3,-1.9"/></g><g fill="#6a6c70" stroke="#6a6c70" stroke-width="0.9"><circle cx="141" cy="222.6" r="1.25" stroke="none"/><path d="M141.0,220.7v3.8M139.3,221.7l3.3,1.9M139.3,223.5l3.3,-1.9"/></g><g fill="#6a6c70" stroke="#6a6c70" stroke-width="0.9"><circle cx="160.8" cy="240.1" r="1.25" stroke="none"/><path d="M160.8,238.2v3.8M159.1,239.2l3.3,1.9M159.1,241.0l3.3,-1.9"/></g><g fill="#6a6c70" stroke="#6a6c70" stroke-width="0.9"><circle cx="165.5" cy="240.1" r="1.25" stroke="none"/><path d="M165.5,238.2v3.8M163.8,239.2l3.3,1.9M163.8,241.0l3.3,-1.9"/></g><g fill="#6a6c70" stroke="#6a6c70" stroke-width="0.9"><circle cx="166.2" cy="250.1" r="1.25" stroke="none"/><path d="M166.2,248.2v3.8M164.5,249.2l3.3,1.9M164.5,251.0l3.3,-1.9"/></g><g fill="#6a6c70" stroke="#6a6c70" stroke-width="0.9"><circle cx="170.2" cy="246.6" r="1.25" stroke="none"/><path d="M170.2,244.7v3.8M168.5,245.7l3.3,1.9M168.5,247.5l3.3,-1.9"/></g><g fill="#6a6c70" stroke="#6a6c70" stroke-width="0.9"><circle cx="175.5" cy="246.6" r="1.25" stroke="none"/><path d="M175.5,244.7v3.8M173.8,245.7l3.3,1.9M173.8,247.5l3.3,-1.9"/></g><g fill="#6a6c70" stroke="#6a6c70" stroke-width="0.9"><circle cx="178.3" cy="215.9" r="1.25" stroke="none"/><path d="M178.3,214.0v3.8M176.6,215.0l3.3,1.9M176.6,216.8l3.3,-1.9"/></g><g fill="#6a6c70" stroke="#6a6c70" stroke-width="0.9"><circle cx="203.5" cy="240.1" r="1.25" stroke="none"/><path d="M203.5,238.2v3.8M201.8,239.2l3.3,1.9M201.8,241.0l3.3,-1.9"/></g><g fill="#6a6c70" stroke="#6a6c70" stroke-width="0.9"><circle cx="209.3" cy="240.1" r="1.25" stroke="none"/><path d="M209.3,238.2v3.8M207.6,239.2l3.3,1.9M207.6,241.0l3.3,-1.9"/></g><g fill="#6a6c70" stroke="#6a6c70" stroke-width="0.9"><circle cx="211.6" cy="244.8" r="1.25" stroke="none"/><path d="M211.6,242.9v3.8M209.9,243.9l3.3,1.9M209.9,245.8l3.3,-1.9"/></g><ellipse cx="45.8" cy="251.6" rx="1.75" ry="2.05" fill="none" stroke="#383838" stroke-width="0.95"/><ellipse cx="83.4" cy="173.6" rx="1.75" ry="2.05" fill="none" stroke="#383838" stroke-width="0.95"/><ellipse cx="102.3" cy="246.5" rx="1.75" ry="2.05" fill="none" stroke="#383838" stroke-width="0.95"/><ellipse cx="136" cy="243" rx="1.75" ry="2.05" fill="none" stroke="#383838" stroke-width="0.95"/><ellipse cx="140.6" cy="243" rx="1.75" ry="2.05" fill="none" stroke="#383838" stroke-width="0.95"/><ellipse cx="183.4" cy="218.6" rx="1.75" ry="2.05" fill="none" stroke="#383838" stroke-width="0.95"/><ellipse cx="184.8" cy="246.2" rx="1.75" ry="2.05" fill="none" stroke="#383838" stroke-width="0.95"/><ellipse cx="195.8" cy="248.3" rx="1.75" ry="2.05" fill="none" stroke="#383838" stroke-width="0.95"/><ellipse cx="221.4" cy="242.7" rx="1.75" ry="2.05" fill="none" stroke="#383838" stroke-width="0.95"/><g fill="#6a6c70" stroke="#6a6c70" stroke-width="0.9"><circle cx="114.1" cy="169.1" r="1.25" stroke="none"/><path d="M114.1,167.2v3.8M112.4,168.2l3.3,1.9M112.4,170.0l3.3,-1.9"/></g><ellipse cx="114.1" cy="181.6" rx="1.75" ry="2.05" fill="none" stroke="#383838" stroke-width="0.95"/><text x="119.1" y="171.9" font-family="Liberation Sans, sans-serif" font-size="7.6" fill="#222" textLength="86" lengthAdjust="spacingAndGlyphs">bilayered La<tspan font-size="4.6" dy="1.6">2-x</tspan><tspan dy="-1.6">Sr</tspan><tspan font-size="4.6" dy="1.6">x</tspan><tspan dy="-1.6">CuO</tspan><tspan font-size="4.6" dy="1.6">4</tspan></text><text x="119.1" y="184.5" font-family="Liberation Sans, sans-serif" font-size="7.6" fill="#222" textLength="96.8" lengthAdjust="spacingAndGlyphs">tertragonal La<tspan font-size="4.6" dy="1.6">1-x</tspan><tspan dy="-1.6">Sr</tspan><tspan font-size="4.6" dy="1.6">x</tspan><tspan dy="-1.6">CuO</tspan><tspan font-size="4.6" dy="1.6">2.6</tspan></text><circle cx="302.7" cy="70.2" r="56.6" fill="url(#sph)"/><circle cx="302.7" cy="70.2" r="56.6" fill="url(#shade)"/><circle cx="302.7" cy="70.2" r="56.6" fill="url(#ring)"/><circle cx="302.7" cy="70.2" r="55.5" fill="none" stroke="url(#rim)" stroke-width="2.2"/><circle cx="302.7" cy="70.2" r="56.4" fill="none" stroke="#a0a4a8" stroke-width="0.5"/><circle cx="461.9" cy="69" r="56" fill="url(#sph)"/><circle cx="461.9" cy="69" r="56" fill="url(#shade)"/><circle cx="461.9" cy="69" r="56" fill="url(#ring)"/><circle cx="461.9" cy="69" r="54.9" fill="none" stroke="url(#rim)" stroke-width="2.2"/><circle cx="461.9" cy="69" r="55.8" fill="none" stroke="#a0a4a8" stroke-width="0.5"/><circle cx="302.1" cy="213.1" r="56.3" fill="url(#sph)"/><circle cx="302.1" cy="213.1" r="56.3" fill="url(#shade)"/><circle cx="302.1" cy="213.1" r="56.3" fill="url(#ring)"/><circle cx="302.1" cy="213.1" r="55.199999999999996" fill="none" stroke="url(#rim)" stroke-width="2.2"/><circle cx="302.1" cy="213.1" r="56.099999999999994" fill="none" stroke="#a0a4a8" stroke-width="0.5"/><circle cx="462" cy="212.8" r="56.2" fill="url(#sph)"/><circle cx="462" cy="212.8" r="56.2" fill="url(#shade)"/><circle cx="462" cy="212.8" r="56.2" fill="url(#ring)"/><circle cx="462" cy="212.8" r="55.1" fill="none" stroke="url(#rim)" stroke-width="2.2"/><circle cx="462" cy="212.8" r="56.0" fill="none" stroke="#a0a4a8" stroke-width="0.5"/><g><path d="M275.8,10.5h8v8h-8zM275.8,120.5h8v8h-8zM296.1,10.5h8v8h-8zM296.1,120.5h8v8h-8zM316.4,10.5h8v8h-8zM316.4,120.5h8v8h-8zM265.7,26.0h8v8h-8zM326.6,26.0h8v8h-8zM265.7,65.5h8v8h-8zM326.6,65.5h8v8h-8zM265.7,105.0h8v8h-8zM326.6,105.0h8v8h-8z" fill="#f6c4d6" opacity="0.55"/><line x1="279.8" y1="14.5" x2="279.8" y2="124.5" stroke="#8e6a30" stroke-width="1.6"/><line x1="300.1" y1="14.5" x2="300.1" y2="124.5" stroke="#8e6a30" stroke-width="1.6"/><line x1="320.4" y1="14.5" x2="320.4" y2="124.5" stroke="#8e6a30" stroke-width="1.6"/><path d="M269.7,30.0L279.8,40.5M289.9,30.0L279.8,40.5M290.0,30.0L300.1,40.5M310.2,30.0L300.1,40.5M310.3,30.0L320.4,40.5M330.6,30.0L320.4,40.5M269.7,69.5L279.8,59.0M269.7,69.5L279.8,80.0M289.9,69.5L279.8,59.0M289.9,69.5L279.8,80.0M290.0,69.5L300.1,59.0M290.0,69.5L300.1,80.0M310.2,69.5L300.1,59.0M310.2,69.5L300.1,80.0M310.3,69.5L320.4,59.0M310.3,69.5L320.4,80.0M330.6,69.5L320.4,59.0M330.6,69.5L320.4,80.0M269.7,109.0L279.8,98.5M289.9,109.0L279.8,98.5M290.0,109.0L300.1,98.5M310.2,109.0L300.1,98.5M310.3,109.0L320.4,98.5M330.6,109.0L320.4,98.5" stroke="#6a8e2c" stroke-width="1.5" fill="none"/><line x1="269.7" y1="30.0" x2="330.6" y2="30.0" stroke="#c03a20" stroke-width="1.5"/><line x1="269.7" y1="69.5" x2="330.6" y2="69.5" stroke="#c03a20" stroke-width="1.5"/><line x1="269.7" y1="109.0" x2="330.6" y2="109.0" stroke="#c03a20" stroke-width="1.5"/><path d="M273.8,30.0h12M279.8,23.0v14M294.1,30.0h12M300.1,23.0v14M314.4,30.0h12M320.4,23.0v14M273.8,69.5h12M279.8,62.5v14M294.1,69.5h12M300.1,62.5v14M314.4,69.5h12M320.4,62.5v14M273.8,109.0h12M279.8,102.0v14M294.1,109.0h12M300.1,102.0v14M314.4,109.0h12M320.4,102.0v14" stroke="#2a2ad8" stroke-width="2.3" fill="none"/><circle cx="279.8" cy="45.4" r="1.4" fill="#8a5a18"/><circle cx="277.8" cy="40.8" r="3.5" fill="url(#la)"/><circle cx="281.8" cy="40.8" r="3.5" fill="url(#la)"/><circle cx="300.1" cy="45.4" r="1.4" fill="#8a5a18"/><circle cx="300.1" cy="40.8" r="4.5" fill="url(#la)"/><circle cx="320.4" cy="45.4" r="1.4" fill="#8a5a18"/><circle cx="318.4" cy="40.8" r="3.5" fill="url(#la)"/><circle cx="322.4" cy="40.8" r="3.5" fill="url(#la)"/><circle cx="279.8" cy="54.1" r="1.4" fill="#8a5a18"/><circle cx="277.8" cy="58.7" r="3.5" fill="url(#la)"/><circle cx="281.8" cy="58.7" r="3.5" fill="url(#la)"/><circle cx="300.1" cy="54.1" r="1.4" fill="#8a5a18"/><circle cx="300.1" cy="58.7" r="4.5" fill="url(#la)"/><circle cx="320.4" cy="54.1" r="1.4" fill="#8a5a18"/><circle cx="318.4" cy="58.7" r="3.5" fill="url(#la)"/><circle cx="322.4" cy="58.7" r="3.5" fill="url(#la)"/><circle cx="279.8" cy="84.9" r="1.4" fill="#8a5a18"/><circle cx="277.8" cy="80.3" r="3.5" fill="url(#la)"/><circle cx="281.8" cy="80.3" r="3.5" fill="url(#la)"/><circle cx="300.1" cy="84.9" r="1.4" fill="#8a5a18"/><circle cx="300.1" cy="80.3" r="4.5" fill="url(#la)"/><circle cx="320.4" cy="84.9" r="1.4" fill="#8a5a18"/><circle cx="318.4" cy="80.3" r="3.5" fill="url(#la)"/><circle cx="322.4" cy="80.3" r="3.5" fill="url(#la)"/><circle cx="279.8" cy="93.6" r="1.4" fill="#8a5a18"/><circle cx="277.8" cy="98.2" r="3.5" fill="url(#la)"/><circle cx="281.8" cy="98.2" r="3.5" fill="url(#la)"/><circle cx="300.1" cy="93.6" r="1.4" fill="#8a5a18"/><circle cx="300.1" cy="98.2" r="4.5" fill="url(#la)"/><circle cx="320.4" cy="93.6" r="1.4" fill="#8a5a18"/><circle cx="318.4" cy="98.2" r="3.5" fill="url(#la)"/><circle cx="322.4" cy="98.2" r="3.5" fill="url(#la)"/><circle cx="279.8" cy="14.5" r="2.5" fill="url(#ox)"/><circle cx="279.8" cy="124.5" r="2.5" fill="url(#ox)"/><circle cx="300.1" cy="14.5" r="2.5" fill="url(#ox)"/><circle cx="300.1" cy="124.5" r="2.5" fill="url(#ox)"/><circle cx="320.4" cy="14.5" r="2.5" fill="url(#ox)"/><circle cx="320.4" cy="124.5" r="2.5" fill="url(#ox)"/><circle cx="269.7" cy="30.0" r="2.7" fill="url(#ox)"/><circle cx="290.0" cy="30.0" r="2.7" fill="url(#ox)"/><circle cx="310.2" cy="30.0" r="2.7" fill="url(#ox)"/><circle cx="330.6" cy="30.0" r="2.7" fill="url(#ox)"/><circle cx="269.7" cy="69.5" r="2.7" fill="url(#ox)"/><circle cx="290.0" cy="69.5" r="3" fill="url(#oxr)"/><circle cx="310.2" cy="69.5" r="3" fill="url(#oxr)"/><circle cx="330.6" cy="69.5" r="3" fill="url(#oxr)"/><circle cx="269.7" cy="109.0" r="2.7" fill="url(#ox)"/><circle cx="290.0" cy="109.0" r="3" fill="url(#oxr)"/><circle cx="310.2" cy="109.0" r="3" fill="url(#oxr)"/><circle cx="330.6" cy="109.0" r="2.7" fill="url(#ox)"/><circle cx="279.8" cy="30.0" r="3.9" fill="url(#cu)"/><circle cx="300.1" cy="30.0" r="3.9" fill="url(#cu)"/><circle cx="320.4" cy="30.0" r="3.9" fill="url(#cu)"/><circle cx="279.8" cy="69.5" r="3.9" fill="url(#cu)"/><circle cx="300.1" cy="69.5" r="3.9" fill="url(#cu)"/><circle cx="320.4" cy="69.5" r="3.9" fill="url(#cu)"/><circle cx="279.8" cy="109.0" r="3.9" fill="url(#cu)"/><circle cx="300.1" cy="109.0" r="3.9" fill="url(#cu)"/><circle cx="320.4" cy="109.0" r="3.9" fill="url(#cu)"/></g><g><path d="M438.2,9.7h8v8h-8zM438.2,119.7h8v8h-8zM458.5,9.7h8v8h-8zM458.5,119.7h8v8h-8zM478.8,9.7h8v8h-8zM478.8,119.7h8v8h-8zM428.1,25.2h8v8h-8zM488.9,25.2h8v8h-8zM428.1,64.7h8v8h-8zM488.9,64.7h8v8h-8zM428.1,104.2h8v8h-8zM488.9,104.2h8v8h-8z" fill="#f6c4d6" opacity="0.55"/><line x1="442.2" y1="13.7" x2="442.2" y2="123.7" stroke="#8e6a30" stroke-width="1.6"/><line x1="462.5" y1="13.7" x2="462.5" y2="123.7" stroke="#8e6a30" stroke-width="1.6"/><line x1="482.8" y1="13.7" x2="482.8" y2="123.7" stroke="#8e6a30" stroke-width="1.6"/><path d="M432.1,29.2L442.2,39.7M452.3,29.2L442.2,39.7M452.4,29.2L462.5,39.7M472.6,29.2L462.5,39.7M472.7,29.2L482.8,39.7M492.9,29.2L482.8,39.7M432.1,68.7L442.2,58.2M432.1,68.7L442.2,79.2M452.3,68.7L442.2,58.2M452.3,68.7L442.2,79.2M452.4,68.7L462.5,58.2M452.4,68.7L462.5,79.2M472.6,68.7L462.5,58.2M472.6,68.7L462.5,79.2M472.7,68.7L482.8,58.2M472.7,68.7L482.8,79.2M492.9,68.7L482.8,58.2M492.9,68.7L482.8,79.2M432.1,108.2L442.2,97.7M452.3,108.2L442.2,97.7M452.4,108.2L462.5,97.7M472.6,108.2L462.5,97.7M472.7,108.2L482.8,97.7M492.9,108.2L482.8,97.7" stroke="#6a8e2c" stroke-width="1.5" fill="none"/><line x1="432.1" y1="29.2" x2="492.9" y2="29.2" stroke="#c03a20" stroke-width="1.5"/><line x1="432.1" y1="68.7" x2="492.9" y2="68.7" stroke="#c03a20" stroke-width="1.5"/><line x1="432.1" y1="108.2" x2="492.9" y2="108.2" stroke="#c03a20" stroke-width="1.5"/><path d="M436.2,29.2h12M442.2,22.2v14M456.5,29.2h12M462.5,22.2v14M476.8,29.2h12M482.8,22.2v14M436.2,68.7h12M442.2,61.7v14M456.5,68.7h12M462.5,61.7v14M476.8,68.7h12M482.8,61.7v14M436.2,108.2h12M442.2,101.2v14M456.5,108.2h12M462.5,101.2v14M476.8,108.2h12M482.8,101.2v14" stroke="#2a2ad8" stroke-width="2.3" fill="none"/><circle cx="442.2" cy="44.6" r="1.4" fill="#8a5a18"/><circle cx="440.2" cy="40.0" r="3.5" fill="url(#la)"/><circle cx="444.2" cy="40.0" r="3.5" fill="url(#la)"/><circle cx="462.5" cy="44.6" r="1.4" fill="#8a5a18"/><circle cx="462.5" cy="40.0" r="4.5" fill="url(#la)"/><circle cx="482.8" cy="44.6" r="1.4" fill="#8a5a18"/><circle cx="480.8" cy="40.0" r="3.5" fill="url(#la)"/><circle cx="484.8" cy="40.0" r="3.5" fill="url(#la)"/><circle cx="442.2" cy="53.3" r="1.4" fill="#8a5a18"/><circle cx="440.2" cy="57.9" r="3.5" fill="url(#la)"/><circle cx="444.2" cy="57.9" r="3.5" fill="url(#la)"/><circle cx="462.5" cy="53.3" r="1.4" fill="#8a5a18"/><circle cx="462.5" cy="57.9" r="4.5" fill="url(#la)"/><circle cx="481.2" cy="57.9" r="3.6" fill="url(#la)"/><circle cx="482.8" cy="57.9" r="4.8" fill="none" stroke="#111" stroke-width="0.9" stroke-dasharray="1.3,1"/><circle cx="442.2" cy="84.1" r="1.4" fill="#8a5a18"/><circle cx="440.2" cy="79.5" r="3.5" fill="url(#la)"/><circle cx="444.2" cy="79.5" r="3.5" fill="url(#la)"/><circle cx="462.5" cy="84.1" r="1.4" fill="#8a5a18"/><circle cx="462.5" cy="79.5" r="4.5" fill="url(#la)"/><circle cx="482.8" cy="84.1" r="1.4" fill="#8a5a18"/><circle cx="480.8" cy="79.5" r="3.5" fill="url(#la)"/><circle cx="484.8" cy="79.5" r="3.5" fill="url(#la)"/><circle cx="442.2" cy="92.8" r="1.4" fill="#8a5a18"/><circle cx="440.2" cy="97.4" r="3.5" fill="url(#la)"/><circle cx="444.2" cy="97.4" r="3.5" fill="url(#la)"/><circle cx="462.5" cy="92.8" r="1.4" fill="#8a5a18"/><circle cx="462.5" cy="97.4" r="4.5" fill="url(#la)"/><circle cx="482.8" cy="92.8" r="1.4" fill="#8a5a18"/><circle cx="480.8" cy="97.4" r="3.5" fill="url(#la)"/><circle cx="484.8" cy="97.4" r="3.5" fill="url(#la)"/><circle cx="442.2" cy="13.7" r="2.5" fill="url(#ox)"/><circle cx="442.2" cy="123.7" r="2.5" fill="url(#ox)"/><circle cx="462.5" cy="13.7" r="2.5" fill="url(#ox)"/><circle cx="462.5" cy="123.7" r="2.5" fill="url(#ox)"/><circle cx="482.8" cy="13.7" r="2.5" fill="url(#ox)"/><circle cx="482.8" cy="123.7" r="2.5" fill="url(#ox)"/><circle cx="432.1" cy="29.2" r="2.7" fill="url(#ox)"/><circle cx="452.4" cy="29.2" r="2.7" fill="url(#ox)"/><circle cx="472.6" cy="29.2" r="2.7" fill="url(#ox)"/><circle cx="492.9" cy="29.2" r="2.7" fill="#f8d8cc" stroke="#a0522d" stroke-width="0.9"/><circle cx="432.1" cy="68.7" r="2.7" fill="url(#ox)"/><circle cx="452.4" cy="68.7" r="2.7" fill="url(#ox)"/><circle cx="472.6" cy="68.7" r="3" fill="url(#oxr)"/><circle cx="492.9" cy="68.7" r="3" fill="url(#oxr)"/><circle cx="432.1" cy="108.2" r="2.7" fill="url(#ox)"/><circle cx="452.4" cy="108.2" r="2.7" fill="url(#ox)"/><circle cx="472.6" cy="108.2" r="2.7" fill="url(#ox)"/><circle cx="492.9" cy="108.2" r="2.7" fill="url(#ox)"/><circle cx="442.2" cy="29.2" r="3.9" fill="url(#cu)"/><circle cx="462.5" cy="29.2" r="3.9" fill="url(#cu)"/><circle cx="482.8" cy="29.2" r="3.9" fill="url(#cu)"/><circle cx="442.2" cy="68.7" r="3.9" fill="url(#cu)"/><circle cx="462.5" cy="68.7" r="3.9" fill="url(#cu)"/><circle cx="482.8" cy="68.7" r="3.9" fill="url(#cu)"/><circle cx="442.2" cy="108.2" r="3.9" fill="url(#cu)"/><circle cx="462.5" cy="108.2" r="3.9" fill="url(#cu)"/><circle cx="482.8" cy="108.2" r="3.9" fill="url(#cu)"/></g><g><path d="M277.1,153.8h8v8h-8zM277.1,263.8h8v8h-8zM297.4,153.8h8v8h-8zM297.4,263.8h8v8h-8zM317.7,153.8h8v8h-8zM317.7,263.8h8v8h-8zM266.9,169.3h8v8h-8zM327.8,169.3h8v8h-8zM266.9,208.8h8v8h-8zM327.8,208.8h8v8h-8zM266.9,248.3h8v8h-8zM327.8,248.3h8v8h-8z" fill="#f6c4d6" opacity="0.55"/><line x1="281.1" y1="157.8" x2="281.1" y2="267.8" stroke="#8e6a30" stroke-width="1.6"/><line x1="301.4" y1="157.8" x2="301.4" y2="267.8" stroke="#8e6a30" stroke-width="1.6"/><line x1="321.7" y1="157.8" x2="321.7" y2="267.8" stroke="#8e6a30" stroke-width="1.6"/><path d="M270.9,173.3L281.1,183.8M291.2,173.3L281.1,183.8M291.2,173.3L301.4,183.8M311.5,173.3L301.4,183.8M311.6,173.3L321.7,183.8M331.8,173.3L321.7,183.8M270.9,212.8L281.1,202.3M270.9,212.8L281.1,223.3M291.2,212.8L281.1,202.3M291.2,212.8L281.1,223.3M291.2,212.8L301.4,202.3M291.2,212.8L301.4,223.3M311.5,212.8L301.4,202.3M311.5,212.8L301.4,223.3M311.6,212.8L321.7,202.3M311.6,212.8L321.7,223.3M331.8,212.8L321.7,202.3M331.8,212.8L321.7,223.3M270.9,252.3L281.1,241.8M291.2,252.3L281.1,241.8M291.2,252.3L301.4,241.8M311.5,252.3L301.4,241.8M311.6,252.3L321.7,241.8M331.8,252.3L321.7,241.8" stroke="#6a8e2c" stroke-width="1.5" fill="none"/><line x1="270.9" y1="173.3" x2="331.8" y2="173.3" stroke="#c03a20" stroke-width="1.5"/><line x1="270.9" y1="212.8" x2="331.8" y2="212.8" stroke="#c03a20" stroke-width="1.5"/><line x1="270.9" y1="252.3" x2="331.8" y2="252.3" stroke="#c03a20" stroke-width="1.5"/><path d="M275.1,173.3h12M281.1,166.3v14M295.4,173.3h12M301.4,166.3v14M315.7,173.3h12M321.7,166.3v14M275.1,212.8h12M281.1,205.8v14M295.4,212.8h12M301.4,205.8v14M315.7,212.8h12M321.7,205.8v14M275.1,252.3h12M281.1,245.3v14M295.4,252.3h12M301.4,245.3v14M315.7,252.3h12M321.7,245.3v14" stroke="#2a2ad8" stroke-width="2.3" fill="none"/><circle cx="281.1" cy="188.7" r="1.4" fill="#8a5a18"/><circle cx="279.1" cy="184.1" r="3.5" fill="url(#la)"/><circle cx="283.1" cy="184.1" r="3.5" fill="url(#la)"/><circle cx="301.4" cy="188.7" r="1.4" fill="#8a5a18"/><circle cx="301.4" cy="184.1" r="4.5" fill="url(#la)"/><circle cx="321.7" cy="188.7" r="1.4" fill="#8a5a18"/><circle cx="319.7" cy="184.1" r="3.5" fill="url(#la)"/><circle cx="323.7" cy="184.1" r="3.5" fill="url(#la)"/><circle cx="281.1" cy="197.4" r="1.4" fill="#8a5a18"/><circle cx="279.1" cy="202.0" r="3.5" fill="url(#la)"/><circle cx="283.1" cy="202.0" r="3.5" fill="url(#la)"/><circle cx="301.4" cy="197.4" r="1.4" fill="#8a5a18"/><circle cx="301.4" cy="202.0" r="4.5" fill="url(#la)"/><circle cx="321.7" cy="202.0" r="4.8" fill="#f4f6f8" fill-opacity="0.45" stroke="#111" stroke-width="0.9" stroke-dasharray="1.4,1"/><circle cx="281.1" cy="228.2" r="1.4" fill="#8a5a18"/><circle cx="279.1" cy="223.6" r="3.5" fill="url(#la)"/><circle cx="283.1" cy="223.6" r="3.5" fill="url(#la)"/><circle cx="301.4" cy="228.2" r="1.4" fill="#8a5a18"/><circle cx="301.4" cy="223.6" r="4.5" fill="url(#la)"/><circle cx="321.7" cy="228.2" r="1.4" fill="#8a5a18"/><circle cx="319.7" cy="223.6" r="3.5" fill="url(#la)"/><circle cx="323.7" cy="223.6" r="3.5" fill="url(#la)"/><circle cx="281.1" cy="236.9" r="1.4" fill="#8a5a18"/><circle cx="279.1" cy="241.5" r="3.5" fill="url(#la)"/><circle cx="283.1" cy="241.5" r="3.5" fill="url(#la)"/><circle cx="301.4" cy="236.9" r="1.4" fill="#8a5a18"/><circle cx="301.4" cy="241.5" r="4.5" fill="url(#la)"/><circle cx="321.7" cy="236.9" r="1.4" fill="#8a5a18"/><circle cx="319.7" cy="241.5" r="3.5" fill="url(#la)"/><circle cx="323.7" cy="241.5" r="3.5" fill="url(#la)"/><circle cx="281.1" cy="157.8" r="2.5" fill="url(#ox)"/><circle cx="281.1" cy="267.8" r="2.5" fill="url(#ox)"/><circle cx="301.4" cy="157.8" r="2.5" fill="url(#ox)"/><circle cx="301.4" cy="267.8" r="2.5" fill="url(#ox)"/><circle cx="321.7" cy="157.8" r="2.5" fill="url(#ox)"/><circle cx="321.7" cy="267.8" r="2.5" fill="url(#ox)"/><circle cx="270.9" cy="173.3" r="2.7" fill="url(#ox)"/><circle cx="291.2" cy="173.3" r="2.7" fill="url(#ox)"/><circle cx="311.5" cy="173.3" r="2.7" fill="url(#ox)"/><circle cx="331.8" cy="173.3" r="2.7" fill="#f8d8cc" stroke="#a0522d" stroke-width="0.9"/><circle cx="270.9" cy="212.8" r="2.7" fill="url(#ox)"/><circle cx="291.2" cy="212.8" r="3" fill="url(#oxr)"/><circle cx="311.5" cy="212.8" r="3" fill="url(#oxr)"/><circle cx="331.8" cy="212.8" r="3" fill="url(#oxr)"/><circle cx="270.9" cy="252.3" r="2.7" fill="url(#ox)"/><circle cx="291.2" cy="252.3" r="2.7" fill="url(#ox)"/><circle cx="311.5" cy="252.3" r="3" fill="url(#oxr)"/><circle cx="331.8" cy="252.3" r="2.7" fill="url(#ox)"/><circle cx="281.1" cy="173.3" r="3.9" fill="url(#cu)"/><circle cx="301.4" cy="173.3" r="3.9" fill="url(#cu)"/><circle cx="321.7" cy="173.3" r="3.9" fill="url(#cu)"/><circle cx="281.1" cy="212.8" r="3.9" fill="url(#cu)"/><circle cx="301.4" cy="212.8" r="3.9" fill="url(#cu)"/><circle cx="321.7" cy="212.8" r="3.9" fill="url(#cu)"/><circle cx="281.1" cy="252.3" r="3.9" fill="url(#cu)"/><circle cx="301.4" cy="252.3" r="3.9" fill="url(#cu)"/><circle cx="321.7" cy="252.3" r="3.9" fill="url(#cu)"/></g><g><path d="M437.9,153.3h8v8h-8zM437.9,263.3h8v8h-8zM458.2,153.3h8v8h-8zM458.2,263.3h8v8h-8zM478.5,153.3h8v8h-8zM478.5,263.3h8v8h-8zM427.8,168.8h8v8h-8zM488.6,168.8h8v8h-8zM427.8,208.3h8v8h-8zM488.6,208.3h8v8h-8zM427.8,247.8h8v8h-8zM488.6,247.8h8v8h-8z" fill="#f6c4d6" opacity="0.55"/><line x1="441.9" y1="157.3" x2="441.9" y2="267.3" stroke="#8e6a30" stroke-width="1.6"/><line x1="462.2" y1="157.3" x2="462.2" y2="267.3" stroke="#8e6a30" stroke-width="1.6"/><line x1="482.5" y1="157.3" x2="482.5" y2="267.3" stroke="#8e6a30" stroke-width="1.6"/><path d="M431.8,172.8L441.9,183.3M452.0,172.8L441.9,183.3M452.1,172.8L462.2,183.3M472.3,172.8L462.2,183.3M472.4,172.8L482.5,183.3M492.6,172.8L482.5,183.3M431.8,212.3L441.9,201.8M431.8,212.3L441.9,222.8M452.0,212.3L441.9,201.8M452.0,212.3L441.9,222.8M452.1,212.3L462.2,201.8M452.1,212.3L462.2,222.8M472.3,212.3L462.2,201.8M472.3,212.3L462.2,222.8M472.4,212.3L482.5,201.8M472.4,212.3L482.5,222.8M492.6,212.3L482.5,201.8M492.6,212.3L482.5,222.8M431.8,251.8L441.9,241.3M452.0,251.8L441.9,241.3M452.1,251.8L462.2,241.3M472.3,251.8L462.2,241.3M472.4,251.8L482.5,241.3M492.6,251.8L482.5,241.3" stroke="#6a8e2c" stroke-width="1.5" fill="none"/><line x1="431.8" y1="172.8" x2="492.6" y2="172.8" stroke="#c03a20" stroke-width="1.5"/><line x1="431.8" y1="212.3" x2="492.6" y2="212.3" stroke="#c03a20" stroke-width="1.5"/><line x1="431.8" y1="251.8" x2="492.6" y2="251.8" stroke="#c03a20" stroke-width="1.5"/><path d="M435.9,172.8h12M441.9,165.8v14M456.2,172.8h12M462.2,165.8v14M476.5,172.8h12M482.5,165.8v14M435.9,212.3h12M441.9,205.3v14M456.2,212.3h12M462.2,205.3v14M476.5,212.3h12M482.5,205.3v14M435.9,251.8h12M441.9,244.8v14M456.2,251.8h12M462.2,244.8v14M476.5,251.8h12M482.5,244.8v14" stroke="#2a2ad8" stroke-width="2.3" fill="none"/><circle cx="441.9" cy="188.2" r="1.4" fill="#8a5a18"/><circle cx="439.9" cy="183.6" r="3.5" fill="url(#la)"/><circle cx="443.9" cy="183.6" r="3.5" fill="url(#la)"/><circle cx="462.2" cy="188.2" r="1.4" fill="#8a5a18"/><circle cx="462.2" cy="183.6" r="4.5" fill="url(#la)"/><circle cx="482.5" cy="188.2" r="1.4" fill="#8a5a18"/><circle cx="480.5" cy="183.6" r="3.5" fill="url(#la)"/><circle cx="484.5" cy="183.6" r="3.5" fill="url(#la)"/><circle cx="441.9" cy="196.9" r="1.4" fill="#8a5a18"/><circle cx="439.9" cy="201.5" r="3.5" fill="url(#la)"/><circle cx="443.9" cy="201.5" r="3.5" fill="url(#la)"/><circle cx="462.2" cy="196.9" r="1.4" fill="#8a5a18"/><circle cx="462.2" cy="201.5" r="4.5" fill="url(#la)"/><circle cx="482.5" cy="201.5" r="4.8" fill="#f4f6f8" fill-opacity="0.45" stroke="#111" stroke-width="0.9" stroke-dasharray="1.4,1"/><circle cx="441.9" cy="227.7" r="1.4" fill="#8a5a18"/><circle cx="439.9" cy="223.1" r="3.5" fill="url(#la)"/><circle cx="443.9" cy="223.1" r="3.5" fill="url(#la)"/><circle cx="462.2" cy="227.7" r="1.4" fill="#8a5a18"/><circle cx="462.2" cy="223.1" r="4.5" fill="url(#la)"/><circle cx="480.9" cy="223.1" r="3.6" fill="url(#la)"/><circle cx="482.5" cy="223.1" r="4.8" fill="none" stroke="#111" stroke-width="0.9" stroke-dasharray="1.3,1"/><circle cx="441.9" cy="236.4" r="1.4" fill="#8a5a18"/><circle cx="439.9" cy="241.0" r="3.5" fill="url(#la)"/><circle cx="443.9" cy="241.0" r="3.5" fill="url(#la)"/><circle cx="462.2" cy="236.4" r="1.4" fill="#8a5a18"/><circle cx="462.2" cy="241.0" r="4.5" fill="url(#la)"/><circle cx="482.5" cy="236.4" r="1.4" fill="#8a5a18"/><circle cx="480.5" cy="241.0" r="3.5" fill="url(#la)"/><circle cx="484.5" cy="241.0" r="3.5" fill="url(#la)"/><circle cx="441.9" cy="157.3" r="2.5" fill="url(#ox)"/><circle cx="441.9" cy="267.3" r="2.5" fill="url(#ox)"/><circle cx="462.2" cy="157.3" r="2.5" fill="url(#ox)"/><circle cx="462.2" cy="267.3" r="2.5" fill="url(#ox)"/><circle cx="482.5" cy="157.3" r="2.5" fill="url(#ox)"/><circle cx="482.5" cy="267.3" r="2.5" fill="url(#ox)"/><circle cx="431.8" cy="172.8" r="2.7" fill="url(#ox)"/><circle cx="452.1" cy="172.8" r="2.7" fill="url(#ox)"/><circle cx="472.3" cy="172.8" r="2.7" fill="url(#ox)"/><circle cx="492.6" cy="172.8" r="2.7" fill="#f8d8cc" stroke="#a0522d" stroke-width="0.9"/><circle cx="431.8" cy="212.3" r="3" fill="url(#oxr)"/><circle cx="452.1" cy="212.3" r="3" fill="url(#oxr)"/><circle cx="472.3" cy="212.3" r="3" fill="url(#oxr)"/><circle cx="492.6" cy="212.3" r="3" fill="url(#oxr)"/><circle cx="431.8" cy="251.8" r="2.7" fill="url(#ox)"/><circle cx="452.1" cy="251.8" r="2.7" fill="url(#ox)"/><circle cx="472.3" cy="251.8" r="2.7" fill="url(#ox)"/><circle cx="492.6" cy="251.8" r="2.7" fill="url(#ox)"/><circle cx="441.9" cy="172.8" r="3.9" fill="url(#cu)"/><circle cx="462.2" cy="172.8" r="3.9" fill="url(#cu)"/><circle cx="482.5" cy="172.8" r="3.9" fill="url(#cu)"/><circle cx="441.9" cy="212.3" r="3.9" fill="url(#cu)"/><circle cx="462.2" cy="212.3" r="3.9" fill="url(#cu)"/><circle cx="482.5" cy="212.3" r="3.9" fill="url(#cu)"/><circle cx="441.9" cy="251.8" r="3.9" fill="url(#cu)"/><circle cx="462.2" cy="251.8" r="3.9" fill="url(#cu)"/><circle cx="482.5" cy="251.8" r="3.9" fill="url(#cu)"/></g><text x="332.4" y="51.6" font-family="Liberation Sans, sans-serif" font-weight="bold" font-size="7" fill="#4caf30">La</text><line x1="331.5" y1="51" x2="325.5" y2="56" stroke="#2a7a10" stroke-width="0.8"/><text x="334.8" y="64.2" font-family="Liberation Sans, sans-serif" font-weight="bold" font-size="7" fill="#1a3ad0">Cu</text><line x1="333.8" y1="63.5" x2="328" y2="66.5" stroke="#1a2ab0" stroke-width="0.8"/><text x="330.5" y="86.6" font-family="Liberation Sans, sans-serif" font-weight="bold" font-size="7" fill="#d02010">O</text><line x1="330" y1="86" x2="324.5" y2="94" stroke="#c02010" stroke-width="0.8"/><text x="291.2" y="135.9" font-family="Liberation Sans, sans-serif" font-weight="bold" font-size="8.2" fill="#111" textLength="19.4" lengthAdjust="spacingAndGlyphs">x = 0</text><text x="452.4" y="135.9" font-family="Liberation Sans, sans-serif" font-weight="bold" font-size="8.2" fill="#111" textLength="25.9" lengthAdjust="spacingAndGlyphs">x = 0.1</text><text x="291.7" y="279.7" font-family="Liberation Sans, sans-serif" font-weight="bold" font-size="8.2" fill="#111" textLength="25.6" lengthAdjust="spacingAndGlyphs">x = 0.2</text><text x="452.3" y="279.6" font-family="Liberation Sans, sans-serif" font-weight="bold" font-size="8.2" fill="#111" textLength="25.6" lengthAdjust="spacingAndGlyphs">x = 0.3</text><text x="505.6" y="16.4" font-family="Liberation Sans, sans-serif" font-weight="bold" font-size="7.2" fill="#111" textLength="25.8" lengthAdjust="spacingAndGlyphs">Oxygen</text><text x="505.6" y="24.6" font-family="Liberation Sans, sans-serif" font-weight="bold" font-size="7.2" fill="#111" textLength="28" lengthAdjust="spacingAndGlyphs">vacancy</text><text x="502" y="66.3" font-family="Liberation Sans, sans-serif" font-weight="bold" font-size="7.2" fill="#111" textLength="22.3" lengthAdjust="spacingAndGlyphs">La-site</text><text x="502" y="74.6" font-family="Liberation Sans, sans-serif" font-weight="bold" font-size="7.2" fill="#111" textLength="34.2" lengthAdjust="spacingAndGlyphs">deficiency</text><line x1="502.3" y1="18.8" x2="498.0" y2="24.3" stroke="#111" stroke-width="0.9"/><path d="M496.4,26.4L496.8,23.4L499.2,25.3Z" fill="#111"/><line x1="497.6" y1="65.2" x2="491.3" y2="60.7" stroke="#111" stroke-width="0.9"/><path d="M489.2,59.2L492.2,59.5L490.4,61.9Z" fill="#111"/><path d="M494.2,33.8 L493.7,35.3 L493.1,36.7 L492.5,38.0 L491.8,39.4 L491.7,40.7 L491.7,42.1 L491.6,43.5 L491.5,44.9 L491.3,46.3 L491.0,47.8 L490.7,49.3 L490.3,50.8 L489.8,52.3 L489.2,53.8 L490.0,54.2 L490.9,52.9 L491.8,51.5 L492.7,50.1 L493.4,48.7 L494.1,47.2 L494.8,45.8 L495.4,44.3 L495.9,42.8 L496.3,41.3 L496.6,39.8 L496.1,38.2 L495.5,36.7 L494.9,35.2 L494.2,33.8Z" fill="url(#tanarr)"/><text x="343" y="159.8" font-family="Liberation Sans, sans-serif" font-weight="bold" font-size="7.2" fill="#111" textLength="25.4" lengthAdjust="spacingAndGlyphs">Oxygen</text><text x="343" y="167.7" font-family="Liberation Sans, sans-serif" font-weight="bold" font-size="7.2" fill="#111" textLength="27.5" lengthAdjust="spacingAndGlyphs">vacancy</text><text x="328.8" y="229.9" font-family="Liberation Sans, sans-serif" font-weight="bold" font-size="7.2" fill="#111" textLength="23.2" lengthAdjust="spacingAndGlyphs">La-site</text><text x="328.8" y="238.1" font-family="Liberation Sans, sans-serif" font-weight="bold" font-size="7.2" fill="#111" textLength="35.2" lengthAdjust="spacingAndGlyphs">deficiency</text><line x1="340.4" y1="162.8" x2="336.8" y2="167.7" stroke="#111" stroke-width="0.9"/><path d="M335.2,169.8L335.5,166.8L338.0,168.6Z" fill="#111"/><line x1="332.4" y1="221" x2="328.3" y2="216.5" stroke="#111" stroke-width="0.9"/><path d="M326.6,214.6L329.5,215.5L327.2,217.5Z" fill="#111"/><path d="M333.2,176.2 L332.8,177.7 L332.3,179.1 L331.7,180.5 L331.1,181.9 L331.1,183.2 L331.3,184.5 L331.4,185.8 L331.4,187.2 L331.3,188.6 L331.2,190.0 L331.1,191.4 L330.8,192.9 L330.6,194.3 L330.2,195.8 L331.0,196.2 L331.8,194.8 L332.6,193.5 L333.3,192.1 L333.9,190.7 L334.5,189.3 L335.0,187.8 L335.4,186.4 L335.8,184.9 L336.2,183.4 L336.3,181.9 L335.6,180.4 L334.8,178.9 L334.0,177.5 L333.2,176.2Z" fill="url(#tanarr)"/><text x="504" y="159.4" font-family="Liberation Sans, sans-serif" font-weight="bold" font-size="7.2" fill="#111" textLength="26" lengthAdjust="spacingAndGlyphs">Oxygen</text><text x="504" y="167.5" font-family="Liberation Sans, sans-serif" font-weight="bold" font-size="7.2" fill="#111" textLength="27.8" lengthAdjust="spacingAndGlyphs">vacancy</text><text x="497.2" y="232.6" font-family="Liberation Sans, sans-serif" font-weight="bold" font-size="7.2" fill="#111" textLength="23.4" lengthAdjust="spacingAndGlyphs">La-site</text><text x="497.2" y="240.5" font-family="Liberation Sans, sans-serif" font-weight="bold" font-size="7.2" fill="#111" textLength="34.6" lengthAdjust="spacingAndGlyphs">deficiency</text><line x1="501.4" y1="162.3" x2="497.7" y2="167.3" stroke="#111" stroke-width="0.9"/><path d="M496.2,169.4L496.5,166.4L498.9,168.2Z" fill="#111"/><line x1="495" y1="223" x2="490.2" y2="217.0" stroke="#111" stroke-width="0.9"/><path d="M488.6,215L491.4,216.1L489.1,218.0Z" fill="#111"/><line x1="496" y1="229.4" x2="491.7" y2="226.2" stroke="#111" stroke-width="0.9"/><path d="M489.6,224.6L492.6,225.0L490.8,227.4Z" fill="#111"/><path d="M498.4,179.2 L498.0,181.0 L497.5,182.8 L497.0,184.5 L496.3,186.2 L496.5,187.8 L496.8,189.4 L497.0,191.0 L497.1,192.6 L497.2,194.2 L497.2,195.9 L497.2,197.6 L497.1,199.3 L496.9,201.1 L496.6,202.9 L497.4,203.1 L498.3,201.5 L499.0,199.9 L499.7,198.2 L500.3,196.5 L500.9,194.8 L501.4,193.0 L501.8,191.2 L502.2,189.4 L502.4,187.6 L502.4,185.8 L501.5,184.1 L500.5,182.4 L499.5,180.8 L498.4,179.2Z" fill="url(#tanarr)"/><circle cx="366.6" cy="194.6" r="11.2" fill="url(#cuo)"/><path d="M357.2,194.6 L361.4,190.8 L366.6,186.3 L371.8,190.8 L376.0,194.6 L371.8,198.4 L366.6,202.9 L361.4,198.4Z" fill="none" stroke="#221a78" stroke-width="1.5" stroke-linejoin="round"/><circle cx="357.2" cy="194.6" r="1.79" fill="#8a4a14"/><circle cx="361.4" cy="190.8" r="1.57" fill="#6a40e0" stroke="#2a1a90" stroke-width="0.6"/><circle cx="366.6" cy="186.3" r="1.79" fill="#8a4a14"/><circle cx="371.8" cy="190.8" r="1.57" fill="#6a40e0" stroke="#2a1a90" stroke-width="0.6"/><circle cx="376.0" cy="194.6" r="1.79" fill="#8a4a14"/><circle cx="371.8" cy="198.4" r="1.57" fill="#6a40e0" stroke="#2a1a90" stroke-width="0.6"/><circle cx="366.6" cy="202.9" r="1.79" fill="#8a4a14"/><circle cx="361.4" cy="198.4" r="1.57" fill="#6a40e0" stroke="#2a1a90" stroke-width="0.6"/><text x="360.4" y="211.6" font-family="Liberation Sans, sans-serif" font-weight="bold" font-size="6.6" fill="#111" textLength="14" lengthAdjust="spacingAndGlyphs">CuO</text><path d="M332.8,203.0 L333.8,202.3 L334.8,201.6 L335.8,201.0 L336.8,200.4 L337.9,199.9 L339.0,199.5 L340.0,199.2 L341.1,198.9 L342.3,198.7 L343.4,198.5 L344.6,198.4 L345.7,198.4 L345.5,195.4 L344.2,195.7 L342.9,196.0 L341.7,196.4 L340.5,196.8 L339.3,197.3 L338.2,197.9 L337.1,198.5 L336.1,199.2 L335.1,200.0 L334.2,200.8 L333.3,201.7 L332.4,202.6Z" fill="#5252e6"/><path d="M351,196.3 L345.1,200.0 L344.5,194.0 Z" fill="#5252e6"/><circle cx="531" cy="197.6" r="13.6" fill="url(#cuo)"/><path d="M519.6,197.6 L524.7,193.0 L531.0,187.5 L537.3,193.0 L542.4,197.6 L537.3,202.2 L531.0,207.7 L524.7,202.2Z" fill="none" stroke="#221a78" stroke-width="1.5" stroke-linejoin="round"/><circle cx="519.6" cy="197.6" r="2.18" fill="#8a4a14"/><circle cx="524.7" cy="193.0" r="1.90" fill="#6a40e0" stroke="#2a1a90" stroke-width="0.6"/><circle cx="531.0" cy="187.5" r="2.18" fill="#8a4a14"/><circle cx="537.3" cy="193.0" r="1.90" fill="#6a40e0" stroke="#2a1a90" stroke-width="0.6"/><circle cx="542.4" cy="197.6" r="2.18" fill="#8a4a14"/><circle cx="537.3" cy="202.2" r="1.90" fill="#6a40e0" stroke="#2a1a90" stroke-width="0.6"/><circle cx="531.0" cy="207.7" r="2.18" fill="#8a4a14"/><circle cx="524.7" cy="202.2" r="1.90" fill="#6a40e0" stroke="#2a1a90" stroke-width="0.6"/><text x="525.3" y="218.6" font-family="Liberation Sans, sans-serif" font-weight="bold" font-size="6.6" fill="#111" textLength="14.6" lengthAdjust="spacingAndGlyphs">CuO</text><path d="M497.0,214.4 L498.0,213.4 L499.0,212.5 L500.0,211.7 L501.0,210.9 L502.1,210.2 L503.2,209.6 L504.3,209.0 L505.5,208.5 L506.7,208.1 L507.9,207.7 L509.1,207.3 L510.4,207.0 L509.6,204.2 L508.3,204.7 L507.0,205.2 L505.7,205.9 L504.5,206.6 L503.3,207.3 L502.2,208.1 L501.2,209.0 L500.2,209.9 L499.2,210.8 L498.3,211.8 L497.4,212.9 L496.6,214.0Z" fill="#5252e6"/><path d="M515.8,204.6 L509.6,208.7 L508.6,202.8 Z" fill="#5252e6"/></svg></body></html>
